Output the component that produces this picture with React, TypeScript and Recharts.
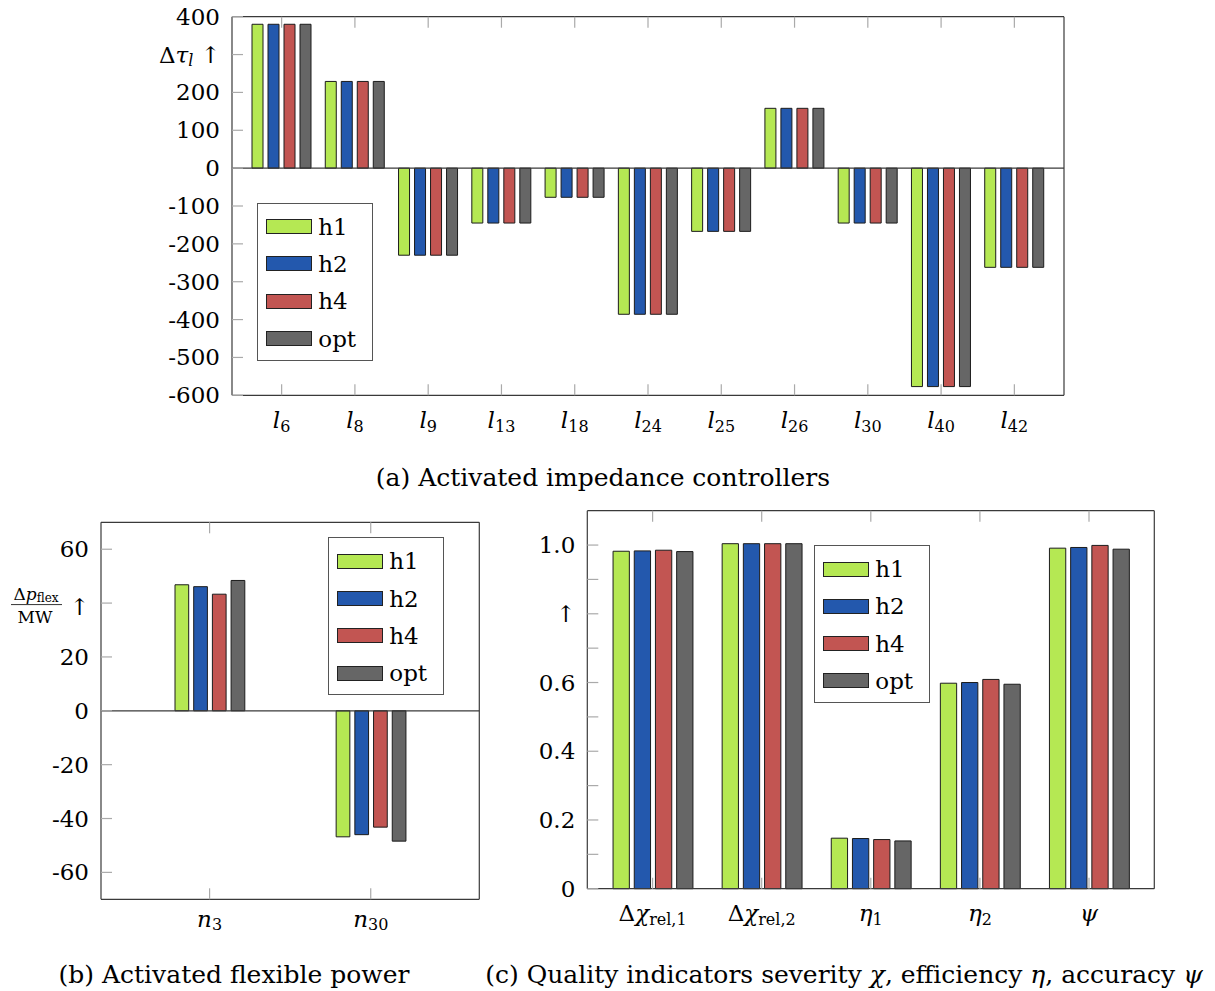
import { BarChart, Bar, XAxis, YAxis, ReferenceLine, Legend } from 'recharts';

const FONT = '"DejaVu Serif", "Liberation Serif", serif';

// series (same four schemes in every panel)
const seriesNames = ['h1', 'h2', 'h4', 'opt'];
const seriesColors = ['#b5e853', '#2358ad', '#c25552', '#666666'];

// (a) activated impedance controllers, one category per line l_k
const impedanceLines = ['6', '8', '9', '13', '18', '24', '25', '26', '30', '40', '42'];
const impedanceH1 = [380, 229, -230, -145, -77, -386, -167, 158, -145, -577, -262];
const impedanceH2 = [380, 229, -230, -145, -77, -386, -167, 158, -145, -577, -262];
const impedanceH4 = [380, 229, -230, -145, -77, -386, -167, 158, -145, -577, -262];
const impedanceOpt = [380, 229, -230, -145, -77, -386, -167, 158, -145, -577, -262];
const impedanceTicks = [-600, -500, -400, -300, -200, -100, 0, 100, 200, 300, 400];

// (b) activated flexible power at nodes n_k
const flexNodes = ['3', '30'];
const flexH1 = [46.8, -46.8];
const flexH2 = [46.1, -46.0];
const flexH4 = [43.3, -43.2];
const flexOpt = [48.4, -48.4];
const flexTicks = [-60, -40, -20, 0, 20, 40, 60];

// (c) quality indicators
const qualityIndicators = ['dchi1', 'dchi2', 'eta1', 'eta2', 'psi'];
const qualityLabels: Record<string, [string, string, string]> = {
  dchi1: ['Δ', 'χ', 'rel,1'],
  dchi2: ['Δ', 'χ', 'rel,2'],
  eta1: ['', 'η', '1'],
  eta2: ['', 'η', '2'],
  psi: ['', 'ψ', ''],
};
const qualityH1 = [0.982, 1.004, 0.147, 0.598, 0.991];
const qualityH2 = [0.983, 1.004, 0.146, 0.600, 0.993];
const qualityH4 = [0.985, 1.004, 0.143, 0.609, 0.999];
const qualityOpt = [0.981, 1.004, 0.139, 0.595, 0.988];
const qualityTicks = [0, 0.1, 0.2, 0.3, 0.4, 0.5, 0.6, 0.7, 0.8, 0.9, 1.0];

function rows(cats: string[], series: number[][]) {
  return cats.map((c, i) => {
    const r: Record<string, any> = { cat: c };
    seriesNames.forEach((s, k) => { r[s] = series[k][i]; });
    return r;
  });
}

const impedanceData = rows(impedanceLines, [impedanceH1, impedanceH2, impedanceH4, impedanceOpt]);
const flexData = rows(flexNodes, [flexH1, flexH2, flexH4, flexOpt]);
const qualityData = rows(qualityIndicators, [qualityH1, qualityH2, qualityH4, qualityOpt]);

const txt = { fontFamily: FONT, fill: '#000' };
const tickLineStyle = { stroke: '#aaaaaa', strokeWidth: 1.2 };
const frameStyle = { stroke: '#3a3a3a', strokeWidth: 1.2 };
const noLabel = () => <g />;

function LegendBox(props: any) {
  const payload = props.payload || [];
  return (
    <div style={{ position: 'relative', width: 116, height: 158, boxSizing: 'border-box', border: '1px solid #555', background: '#fff' }}>
      {payload.map((p: any, i: number) => (
        <div key={p.value} style={{ position: 'absolute', left: 8, top: 23 + 37.3 * i - 15, height: 30, display: 'flex', alignItems: 'center' }}>
          <span style={{ display: 'inline-block', width: 46, height: 15, boxSizing: 'border-box', border: '1px solid #222', background: p.color }} />
          <span style={{ marginLeft: 6, fontFamily: FONT, fontSize: 23, lineHeight: '30px', color: '#000' }}>{p.value}</span>
        </div>
      ))}
    </div>
  );
}

// tick labels
const impedanceXTick = ({ x, y, payload }: any) => (
  <text x={x} y={y} textAnchor="middle" fontSize={23} {...txt}>
    <tspan fontStyle="italic">l</tspan>
    <tspan fontSize={16} dy={4}>{payload.value}</tspan>
  </text>
);

const impedanceYTick = ({ x, y, payload }: any) => {
  if (payload.value === 300) {
    return (
      <text x={x} y={y} dy={8} textAnchor="end" fontSize={23} {...txt}>
        Δ<tspan fontStyle="italic">τ</tspan>
        <tspan fontStyle="italic" fontSize={16} dy={3}>l</tspan>
        <tspan dy={-3}>{' ↑'}</tspan>
      </text>
    );
  }
  return <text x={x} y={y} dy={8} textAnchor="end" fontSize={23} {...txt}>{payload.value}</text>;
};

const flexXTick = ({ x, y, payload }: any) => (
  <text x={x} y={y} textAnchor="middle" fontSize={23} {...txt}>
    <tspan fontStyle="italic">n</tspan>
    <tspan fontSize={16} dy={3}>{payload.value}</tspan>
  </text>
);

const flexYTick = ({ x, y, payload }: any) => {
  if (payload.value === 40) {
    return (
      <g>
        <text x={x - 53} y={y - 3} textAnchor="middle" fontSize={17} {...txt}>
          Δ<tspan fontStyle="italic">p</tspan>
          <tspan fontSize={12} dy={2}>flex</tspan>
        </text>
        <line x1={x - 78} x2={x - 27} y1={y + 1.5} y2={y + 1.5} stroke="#000" strokeWidth={0.8} />
        <text x={x - 54} y={y + 20} textAnchor="middle" fontSize={17} {...txt}>MW</text>
        <text x={x} y={y + 12} textAnchor="end" fontSize={23} {...txt}>↑</text>
      </g>
    );
  }
  return <text x={x} y={y} dy={8} textAnchor="end" fontSize={23} {...txt}>{payload.value}</text>;
};

const qualityXTick = ({ x, y, payload }: any) => {
  const [pre, it, sub] = qualityLabels[payload.value];
  return (
    <text x={x} y={y} textAnchor="middle" fontSize={23} {...txt}>
      {pre}
      <tspan fontStyle="italic">{it}</tspan>
      {sub && <tspan fontSize={16} dy={4}>{sub}</tspan>}
    </text>
  );
};

const qualityYTick = ({ x, y, payload }: any) => {
  const v = Math.round(payload.value * 10);
  let label = '';
  if (v === 0) label = '0';
  else if (v === 8) label = '↑';
  else if (v % 2 === 0) label = (v / 10).toFixed(1);
  if (!label) return <g />;
  return <text x={x} y={y} dy={8} textAnchor="end" fontSize={23} {...txt}>{label}</text>;
};

interface PanelProps {
  width: number;
  height: number;
  margin: { top: number; right: number; bottom: number; left: number };
  data: Record<string, any>[];
  domain: [number, number];
  ticks: number[];
  pad: number;
  barSize: number;
  barGap: number;
  bottomHeight: number;
  xTickMargin: number;
  xTick: any;
  yTick: any;
  legendAt: [number, number];
  zeroLine: boolean;
}

function Panel(p: PanelProps) {
  return (
    <BarChart width={p.width} height={p.height} data={p.data} margin={p.margin} barSize={p.barSize} barGap={p.barGap}>
      <XAxis
        dataKey="cat"
        orientation="bottom"
        height={p.bottomHeight}
        padding={{ left: p.pad, right: p.pad }}
        interval={0}
        tickSize={-11}
        tickMargin={p.xTickMargin}
        tick={p.xTick}
        tickLine={tickLineStyle}
        axisLine={frameStyle}
      />
      <XAxis
        dataKey="cat"
        xAxisId="top"
        orientation="top"
        height={10}
        padding={{ left: p.pad, right: p.pad }}
        interval={0}
        tickSize={-11}
        tick={noLabel}
        tickLine={tickLineStyle}
        axisLine={frameStyle}
      />
      <YAxis
        type="number"
        width={90}
        domain={p.domain}
        ticks={p.ticks}
        interval={0}
        tickSize={-11}
        tickMargin={23}
        tick={p.yTick}
        tickLine={tickLineStyle}
        axisLine={frameStyle}
      />
      <YAxis
        type="number"
        yAxisId="right"
        orientation="right"
        width={10}
        domain={p.domain}
        ticks={p.ticks}
        interval={0}
        tickSize={-11}
        tick={noLabel}
        tickLine={tickLineStyle}
        axisLine={frameStyle}
      />
      {p.zeroLine && <ReferenceLine y={0} stroke="#3a3a3a" strokeWidth={1.2} />}
      {seriesNames.map((s, i) => (
        <Bar
          key={s}
          dataKey={s}
          name={s}
          fill={seriesColors[i]}
          stroke="#1c1c1c"
          strokeWidth={1}
          isAnimationActive={false}
        />
      ))}
      <Legend
        layout="vertical"
        align="center"
        verticalAlign="middle"
        wrapperStyle={{ left: p.legendAt[0], top: p.legendAt[1], width: 116, height: 158 }}
        content={LegendBox}
      />
    </BarChart>
  );
}

export default function App() {
  return (
    <div style={{ position: 'absolute', left: 0, top: 0, width: 1215, height: 991, background: '#fff', overflow: 'hidden' }}>
      <div style={{ position: 'absolute', left: 0, top: 0 }}>
        <Panel
          width={1215}
          height={450}
          margin={{ top: 6.7, right: 141, bottom: 4.7, left: 142 }}
          data={impedanceData}
          domain={[-600, 400]}
          ticks={impedanceTicks}
          pad={13}
          barSize={11}
          barGap={5}
          bottomHeight={50}
          xTickMargin={44}
          xTick={impedanceXTick}
          yTick={impedanceYTick}
          legendAt={[257.3, 202.7]}
          zeroLine
        />
      </div>
      <div style={{ position: 'absolute', left: 0, top: 500 }}>
        <Panel
          width={540}
          height={450}
          margin={{ top: 12.3, right: 50.7, bottom: 0.7, left: 11 }}
          data={flexData}
          domain={[-70, 70]}
          ticks={flexTicks}
          pad={28}
          barSize={13.7}
          barGap={5}
          bottomHeight={50}
          xTickMargin={38.5}
          xTick={flexXTick}
          yTick={flexYTick}
          legendAt={[328.3, 37.3]}
          zeroLine
        />
      </div>
      <div style={{ position: 'absolute', left: 480, top: 480 }}>
        <Panel
          width={735}
          height={470}
          margin={{ top: 20.7, right: 50.7, bottom: 1.3, left: 17.3 }}
          data={qualityData}
          domain={[0, 1.1]}
          ticks={qualityTicks}
          pad={10.75}
          barSize={16.3}
          barGap={4.9}
          bottomHeight={60}
          xTickMargin={43}
          xTick={qualityXTick}
          yTick={qualityYTick}
          legendAt={[334.3, 65]}
          zeroLine={false}
        />
      </div>
      <svg width={1215} height={991} style={{ position: 'absolute', left: 0, top: 0, pointerEvents: 'none' }}>
        <text x={603} y={486} textAnchor="middle" fontSize={25} {...txt}>(a) Activated impedance controllers</text>
        <text x={234} y={983} textAnchor="middle" fontSize={25} {...txt}>(b) Activated flexible power</text>
        <text x={844} y={983} textAnchor="middle" fontSize={25} {...txt}>
          (c) Quality indicators severity <tspan fontStyle="italic">χ</tspan>, efficiency <tspan fontStyle="italic">η</tspan>, accuracy <tspan fontStyle="italic">ψ</tspan>
        </text>
      </svg>
    </div>
  );
}
